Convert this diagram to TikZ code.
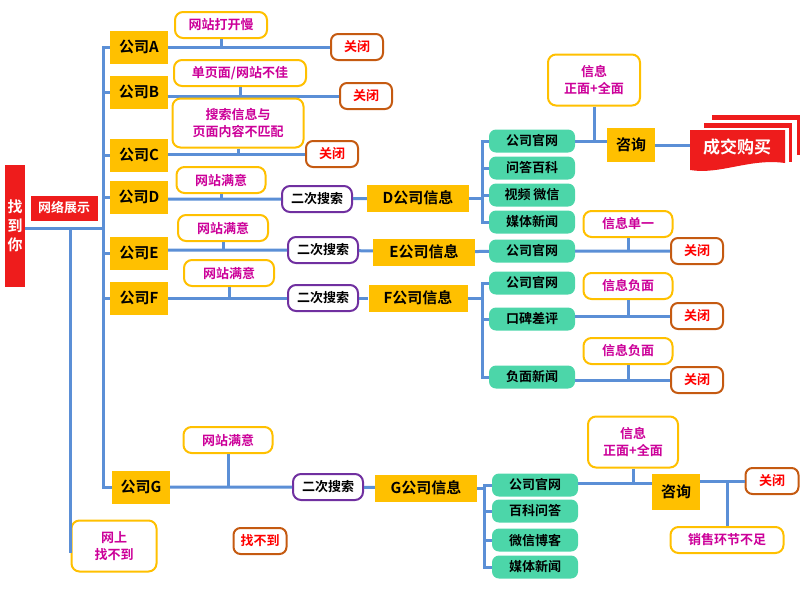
\documentclass[tikz,border=0pt]{standalone}
\usepackage{fontspec}
\setmainfont{Noto Sans CJK SC}[BoldFont={* Bold}]
\usetikzlibrary{positioning,calc}
\definecolor{lineblue}{HTML}{5B8FD6}
\definecolor{gold}{HTML}{FFC000}
\definecolor{magen}{HTML}{CC0099}
\definecolor{brown}{HTML}{C55A11}
\definecolor{purp}{HTML}{7030A0}
\definecolor{mint}{HTML}{4CD6A9}
\definecolor{redbox}{HTML}{EE1C1C}
\tikzset{
    link/.style={draw=lineblue, line width=3pt},
    company/.style={fill=gold, font=\fontsize{15}{17}\selectfont\bfseries, minimum width=58pt, minimum height=33pt, inner sep=1pt},
    info/.style={fill=gold, font=\fontsize{15}{17}\selectfont\bfseries, minimum width=102pt, minimum height=27pt, inner sep=1pt},
    label/.style={draw=gold, line width=2pt, fill=white, rounded corners=8pt, text=magen, font=\fontsize{13}{17}\selectfont\bfseries, minimum height=26pt, inner sep=3pt, align=center},
    closebox/.style={draw=brown, line width=2pt, fill=white, rounded corners=7pt, text=red, font=\fontsize{13}{15}\selectfont\bfseries, minimum width=52pt, minimum height=26pt, inner sep=1pt},
    search/.style={draw=purp, line width=2pt, fill=white, rounded corners=8pt, font=\fontsize{13}{15}\selectfont\bfseries, minimum width=70pt, minimum height=26pt, inner sep=1pt},
    site/.style={fill=mint, rounded corners=7pt, font=\fontsize{13}{15}\selectfont\bfseries, minimum width=86pt, minimum height=23pt, inner sep=1pt},
}
\begin{document}
\begin{tikzpicture}[x=1pt, y=-1pt]
    \useasboundingbox (0,0) rectangle (800,600);

    % left side
    \node[fill=redbox, text=white, font=\fontsize{15}{19}\selectfont\bfseries, minimum width=20pt, minimum height=122pt, align=center, inner sep=0pt] (zhao) at (15,226) {找\\到\\你};
    \node[fill=redbox, text=white, font=\fontsize{13}{15}\selectfont\bfseries, minimum width=67pt, minimum height=25pt, inner sep=0pt] (show) at (64,208) {网络展示};
    \node[label, minimum width=85pt, minimum height=51pt] (none) at (114,546) {网上\\找不到};
    \node[closebox, minimum width=53pt] (notfound) at (260,541) {找不到};

    % companies
    \node[company] (cA) at (139,47) {公司A};
    \node[company] (cB) at (139,92) {公司B};
    \node[company] (cC) at (139,155) {公司C};
    \node[company] (cD) at (139,197) {公司D};
    \node[company] (cE) at (139,253) {公司E};
    \node[company] (cF) at (139,298) {公司F};
    \node[company] (cG) at (141,487) {公司G};
    \coordinate (tr) at (103,0);

    \draw[link] (zhao.east |- 0,228) -- (103,228);
    \draw[link] (70,228) -- (70,553);
    \draw[link] (cA.west) -- (103,47) -- (103,487) -- (cG.west);
    \foreach \c in {cB,cC,cD,cE,cF}
        \draw[link] (tr |- \c) -- (\c.west);

    % A, B, C
    \node[closebox] (xA) at (357,47) {关闭};
    \node[closebox] (xB) at (366,96) {关闭};
    \node[closebox] (xC) at (332,154) {关闭};
    \draw[link] (cA.east |- xA) -- (xA);
    \draw[link] (cB.east |- xB) -- (xB);
    \draw[link] (cC.east |- xC) -- (xC);
    \node[label, minimum width=92pt] (lA) at (221,25) {网站打开慢};
    \node[label, minimum width=132pt] (lB) at (240,73) {单页面/网站不佳};
    \node[label, minimum width=131pt, minimum height=49pt] (lC) at (238,123) {搜索信息与\\页面内容不匹配};
    \draw[link] (lA) -- (lA |- xA);
    \draw[link] (lB) -- (lB |- xB);
    \draw[link] (lC) -- (lC |- xC);

    % D
    \node[search] (sD) at (317,199) {二次搜索};
    \node[info] (iD) at (418,198) {D公司信息};
    \node[label, minimum width=89pt] (lD) at (221,180) {网站满意};
    \draw[link] (cD.east |- sD) -- (sD) -- (iD);
    \draw[link] (lD) -- (lD |- sD);
    \node[site] (dw1) at (532,141) {公司官网};
    \node[site] (dw2) at (532,168) {问答百科};
    \node[site] (dw3) at (532,195) {视频\ 微信};
    \node[site] (dw4) at (532,222) {媒体新闻};
    \draw[link] (iD.east) -- (482,198);
    \draw[link] (dw1.west) -- (482,141) -- (482,222) -- (dw4.west);
    \foreach \w in {dw2,dw3}
        \draw[link] (482,0 |- \w) -- (\w.west);
    \node[fill=gold, font=\fontsize{15}{17}\selectfont\bfseries, minimum width=48pt, minimum height=34pt, inner sep=0pt] (askD) at (631,145) {咨询};
    \node[label, minimum width=92pt, minimum height=51pt] (goodD) at (594,80) {信息\\正面+全面};
    \draw[link] (dw1.east) -- (askD.west |- dw1);
    \draw[link] (goodD) -- (goodD |- dw1);
    % deal
    \fill[redbox] (712,115) rectangle (800,155);
    \fill[white] (707,120) rectangle (797,160);
    \fill[redbox] (704,123) rectangle (792,162);
    \fill[white] (699,128) rectangle (789,167);
    \fill[redbox] (690,130) -- (785,130) -- (785,163) .. controls (750,158) and (720,175) .. (690,170) -- cycle;
    \node[text=white, font=\fontsize{17}{19}\selectfont\bfseries, inner sep=0pt] (deal) at (737,147) {成交购买};
    \draw[link] (askD.east) -- (690,0 |- askD);

    % E
    \node[search] (sE) at (323,250) {二次搜索};
    \node[info] (iE) at (424,252) {E公司信息};
    \node[label, minimum width=90pt] (lE) at (223,228) {网站满意};
    \draw[link] (cE.east |- sE) -- (sE) -- (iE);
    \draw[link] (lE) -- (lE |- sE);
    \node[site] (ew1) at (532,251) {公司官网};
    \node[closebox] (xE) at (697,251) {关闭};
    \node[label, minimum width=89pt] (lE2) at (628,224) {信息单一};
    \draw[link] (iE) -- (ew1) -- (xE);
    \draw[link] (lE2) -- (lE2 |- xE);

    % F
    \node[search] (sF) at (323,298) {二次搜索};
    \node[info, minimum width=99pt] (iF) at (418,298) {F公司信息};
    \node[label, minimum width=90pt] (lF) at (229,273) {网站满意};
    \draw[link] (cF.east |- sF) -- (sF) -- (iF);
    \draw[link] (lF) -- (lF |- sF);
    \node[site] (fw1) at (532,283) {公司官网};
    \node[site] (fw2) at (532,319) {口碑差评};
    \node[site] (fw3) at (532,377) {负面新闻};
    \draw[link] (iF.east) -- (482,298);
    \draw[link] (fw1.west) -- (482,283) -- (482,377) -- (fw3.west);
    \draw[link] (482,319) -- (fw2.west);
    \node[closebox] (xF1) at (697,316) {关闭};
    \node[closebox] (xF2) at (697,380) {关闭};
    \node[label, minimum width=89pt] (lF1) at (628,286) {信息负面};
    \node[label, minimum width=89pt] (lF2) at (628,351) {信息负面};
    \draw[link] (fw2.east |- xF1) -- (xF1);
    \draw[link] (fw3.east |- xF2) -- (xF2);
    \draw[link] (lF1) -- (lF1 |- xF1);
    \draw[link] (lF2) -- (lF2 |- xF2);

    % G
    \node[search] (sG) at (328,487) {二次搜索};
    \node[info] (iG) at (426,488) {G公司信息};
    \node[label, minimum width=89pt] (lG) at (228,440) {网站满意};
    \draw[link] (cG) -- (sG) -- (iG);
    \draw[link] (lG) -- (lG |- sG);
    \node[site] (gw1) at (535,485) {公司官网};
    \node[site] (gw2) at (535,511) {百科问答};
    \node[site] (gw3) at (535,540) {微信博客};
    \node[site] (gw4) at (535,567) {媒体新闻};
    \draw[link] (iG.east) -- (484,488);
    \draw[link] (gw1.west) -- (484,485) -- (484,567) -- (gw4.west);
    \foreach \w in {gw2,gw3}
        \draw[link] (484,0 |- \w) -- (\w.west);
    \node[fill=gold, font=\fontsize{15}{17}\selectfont\bfseries, minimum width=48pt, minimum height=36pt, inner sep=0pt] (askG) at (676,492) {咨询};
    \node[label, minimum width=90pt, minimum height=51pt] (goodG) at (633,442) {信息\\正面+全面};
    \node[closebox, minimum width=53pt] (xG) at (772,481) {关闭};
    \node[label, minimum width=113pt] (sale) at (727,540) {销售环节不足};
    \draw[link] (gw1.east |- 0,483) -- (askG.west |- 0,483);
    \draw[link] (goodG) -- (goodG |- 0,483);
    \draw[link] (askG.east |- xG) -- (xG);
    \draw[link] (sale) -- (sale |- xG);
\end{tikzpicture}
\end{document}
